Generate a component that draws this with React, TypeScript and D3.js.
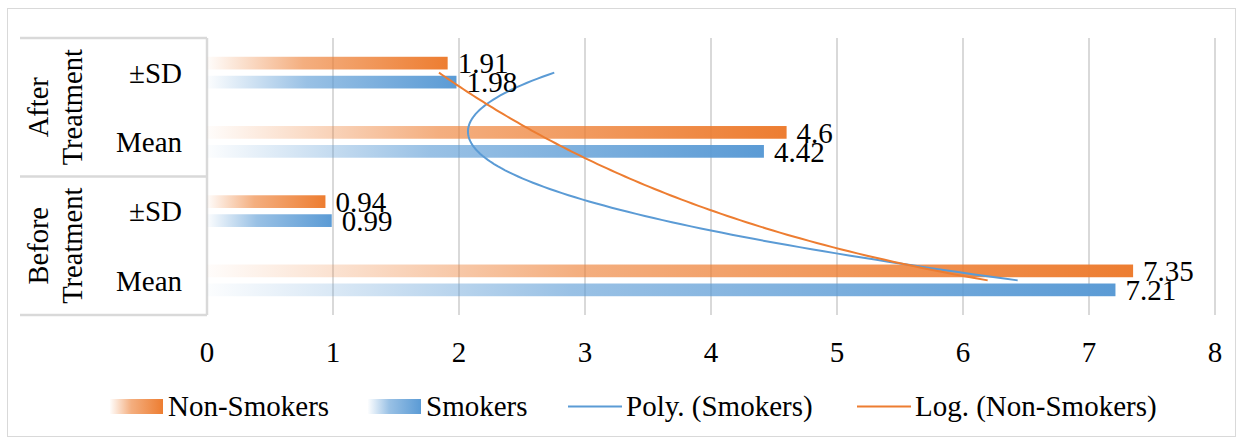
import React from 'react';
import * as d3 from 'd3';

// categories in Excel order (first one sits at the bottom)
const groups = ['Before Treatment', 'After Treatment'];
const categories = ['Before Treatment|Mean', 'Before Treatment|±SD', 'After Treatment|Mean', 'After Treatment|±SD'];
const seriesNames = ['Non-Smokers', 'Smokers'];
const nonSmokers = [7.35, 0.94, 4.6, 1.91];
const smokers = [7.21, 0.99, 4.42, 1.98];
const xTicks = [0, 1, 2, 3, 4, 5, 6, 7, 8];

const W = 1244;
const H = 442;
const FONT = 'Liberation Serif, DejaVu Serif, Times New Roman, serif';
const ORANGE = '#ED7D31';
const BLUE = '#5B9BD5';
const GRID = '#d9d9d9';
const FS = 29;

// least squares: polynomial order 2
function polyFit(ys: number[]) {
  const xs = ys.map((_, i) => i + 1);
  const n = ys.length;
  const s = (f: (x: number, y: number) => number) => d3.sum(xs, (x, i) => f(x, ys[i]));
  const Sx = s(x => x), Sx2 = s(x => x * x), Sx3 = s(x => x ** 3), Sx4 = s(x => x ** 4);
  const Sy = s((x, y) => y), Sxy = s((x, y) => x * y), Sx2y = s((x, y) => x * x * y);
  const M = [[n, Sx, Sx2], [Sx, Sx2, Sx3], [Sx2, Sx3, Sx4]];
  const B = [Sy, Sxy, Sx2y];
  const det = (m: number[][]) =>
    m[0][0] * (m[1][1] * m[2][2] - m[1][2] * m[2][1]) -
    m[0][1] * (m[1][0] * m[2][2] - m[1][2] * m[2][0]) +
    m[0][2] * (m[1][0] * m[2][1] - m[1][1] * m[2][0]);
  const D = det(M);
  const coef = [0, 1, 2].map(k => det(M.map((row, r) => row.map((v, c) => (c === k ? B[r] : v)))) / D);
  return (x: number) => coef[0] + coef[1] * x + coef[2] * x * x;
}

// least squares: y = a + b ln x
function logFit(ys: number[]) {
  const ls = ys.map((_, i) => Math.log(i + 1));
  const n = ys.length;
  const Sl = d3.sum(ls), Sl2 = d3.sum(ls, l => l * l);
  const Sy = d3.sum(ys), Sly = d3.sum(ls, (l, i) => l * ys[i]);
  const b = (n * Sly - Sl * Sy) / (n * Sl2 - Sl * Sl);
  const a = (Sy - b * Sl) / n;
  return (x: number) => a + b * Math.log(x);
}

const T = (props: any) => <text fontFamily={FONT} fill="#000" fontSize={FS} {...props} />;

const App = () => {
  const plot = { left: 207, right: 1215, top: 38, bottom: 315 };

  const x = d3.scaleLinear().domain([0, 8]).range([plot.left, plot.right]);
  const y = d3.scaleBand().domain([...categories].reverse()).range([plot.top, plot.bottom]);
  const inner = d3.scaleBand().domain(seriesNames).range([-15.85, 15.85]).paddingInner(0.33);
  const yCenter = (c: string) => (y(c) as number) + y.bandwidth() / 2;

  // trendline x runs over category index 1..n
  const idx = d3.scaleLinear().domain([1, categories.length]).range([yCenter(categories[0]), yCenter(categories[categories.length - 1])]);
  const steps = d3.range(0, 101).map(i => 1 + (i / 100) * (categories.length - 1));
  const poly = polyFit(smokers);
  const lg = logFit(nonSmokers);
  const line = d3.line<number[]>().x(d => d[0]).y(d => d[1]);
  const polyPath = line(steps.map(t => [x(poly(t)), idx(t)]));
  const logPath = line(steps.map(t => [x(lg(t)), idx(t)]));

  const series = [
    { name: 'Non-Smokers', values: nonSmokers, color: ORANGE, grad: 'gOrange' },
    { name: 'Smokers', values: smokers, color: BLUE, grad: 'gBlue' },
  ];

  const groupBounds = groups.map(g => {
    const cs = categories.filter(c => c.startsWith(g + '|'));
    const ys = cs.map(c => y(c) as number);
    return { g, top: d3.min(ys) as number, bottom: (d3.max(ys) as number) + y.bandwidth() };
  });

  const legend = [
    { kind: 'bar', label: 'Non-Smokers', grad: 'gOrange', x: 110 },
    { kind: 'bar', label: 'Smokers', grad: 'gBlue', x: 368 },
    { kind: 'line', label: 'Poly. (Smokers)', color: BLUE, x: 568 },
    { kind: 'line', label: 'Log. (Non-Smokers)', color: ORANGE, x: 857 },
  ];
  const legendY = 406.5;

  return (
    <div style={{ position: 'absolute', left: 0, top: 0 }}>
      <svg width={W} height={H} style={{ display: 'block' }}>
        <defs>
          {series.map(s => (
            <linearGradient key={s.grad} id={s.grad} x1="0" x2="1" y1="0" y2="0">
              <stop offset="0%" stopColor={s.color} stopOpacity={0.02} />
              <stop offset="40%" stopColor={s.color} stopOpacity={0.62} />
              <stop offset="100%" stopColor={s.color} stopOpacity={1} />
            </linearGradient>
          ))}
        </defs>
        <rect x={0} y={0} width={W} height={H} fill="#fff" />
        <rect x={7.5} y={8.5} width={1228} height={428} fill="none" stroke={GRID} strokeWidth={1} />

        {/* gridlines */}
        {xTicks.map(t => (
          <line key={t} x1={x(t)} x2={x(t)} y1={plot.top} y2={plot.bottom} stroke={GRID} strokeWidth={t === 0 ? 2.5 : 2} />
        ))}

        {/* category axis boxes */}
        {[plot.top, ...groupBounds.map(b => b.bottom)].map((yy, i) => (
          <line key={i} x1={20} x2={plot.left} y1={yy} y2={yy} stroke={GRID} strokeWidth={2.5} />
        ))}

        {categories.map(c => (
          <T key={c} x={182} y={yCenter(c)} dy="0.35em" textAnchor="end">
            {c.split('|')[1]}
          </T>
        ))}
        {groupBounds.map(b => {
          const words = b.g.split(' ');
          const cy = (b.top + b.bottom) / 2;
          return (
            <g key={b.g} transform={`translate(55,${cy}) rotate(-90)`}>
              {words.map((w, i) => (
                <T key={w} x={0} y={(i - (words.length - 1) / 2) * 34} dy="0.35em" textAnchor="middle" fontSize={28.5}>
                  {w}
                </T>
              ))}
            </g>
          );
        })}

        {/* bars */}
        {series.map(s => (
          <g key={s.name}>
            {s.values.map((v, i) => (
              <rect key={i} x={x(0)} y={yCenter(categories[i]) + (inner(s.name) as number)} width={x(v) - x(0)} height={inner.bandwidth()} fill={`url(#${s.grad})`} />
            ))}
          </g>
        ))}

        {/* trendlines */}
        <path d={polyPath || ''} fill="none" stroke={BLUE} strokeWidth={2} />
        <path d={logPath || ''} fill="none" stroke={ORANGE} strokeWidth={2} />

        {/* data labels */}
        {series.map(s => (
          <g key={s.name + 'l'}>
            {s.values.map((v, i) => (
              <T key={i} x={x(v) + 10} y={yCenter(categories[i]) + (inner(s.name) as number) + inner.bandwidth() / 2} dy="0.35em">
                {String(v)}
              </T>
            ))}
          </g>
        ))}

        {/* x tick labels */}
        {xTicks.map(t => (
          <T key={t} x={x(t)} y={362} textAnchor="middle">
            {t}
          </T>
        ))}

        {/* legend */}
        {legend.map(l => (
          <g key={l.label} transform={`translate(${l.x},${legendY})`}>
            {l.kind === 'bar' ? (
              <rect x={0} y={-7.5} width={53} height={15} fill={`url(#${l.grad})`} />
            ) : (
              <line x1={0} x2={54} y1={0} y2={0} stroke={l.color} strokeWidth={2} />
            )}
            <T x={58} y={0} dy="0.33em">
              {l.label}
            </T>
          </g>
        ))}
      </svg>
    </div>
  );
};

export default App;
